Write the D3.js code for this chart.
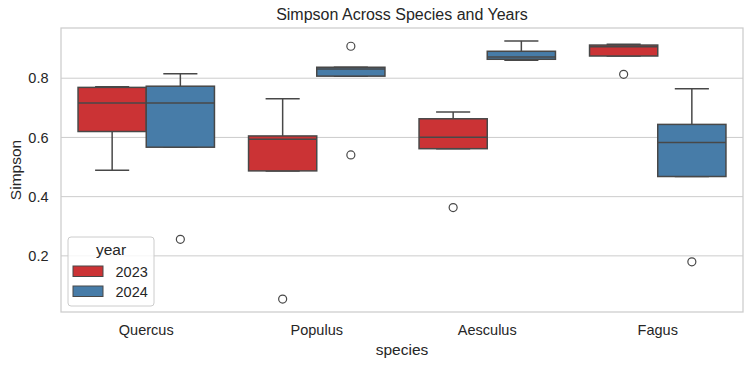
<!DOCTYPE html>
<html>
<head>
<meta charset="utf-8">
<script src="https://cdn.jsdelivr.net/npm/d3@7"></script>
<style>
  body { margin: 0; background: #fff; }
  text { font-family: "Liberation Sans", Arial, sans-serif; fill: #262626; }
</style>
</head>
<body>
<div id="chart"></div>
<script>
// categories and hue levels
const species = ['Quercus', 'Populus', 'Aesculus', 'Fagus'];
const years = ['2023', '2024'];

// box statistics, one value per species
const low2023  = [0.489, 0.487, 0.562, 0.875];
const q1_2023  = [0.620, 0.487, 0.562, 0.875];
const med2023  = [0.716, 0.594, 0.601, 0.906];
const q3_2023  = [0.769, 0.605, 0.663, 0.912];
const high2023 = [0.771, 0.731, 0.686, 0.915];
const out2023  = [[], [0.054], [0.363], [0.813]];

const low2024  = [0.567, 0.807, 0.861, 0.468];
const q1_2024  = [0.567, 0.807, 0.864, 0.468];
const med2024  = [0.716, 0.831, 0.872, 0.583];
const q3_2024  = [0.773, 0.837, 0.891, 0.644];
const high2024 = [0.815, 0.837, 0.926, 0.764];
const out2024  = [[0.256], [0.908, 0.541], [], [0.180]];

const yTicks = [0.2, 0.4, 0.6, 0.8];

const colors = { '2023': '#cb3335', '2024': '#477ca8' };
const lineColor = '#484848';

const width = 751, height = 366;
const margin = { top: 28, right: 8, bottom: 54, left: 61 };
const plotW = width - margin.left - margin.right;
const plotH = height - margin.top - margin.bottom;

// build a flat list of boxes from the arrays
const stats = {
  '2023': { low: low2023, q1: q1_2023, med: med2023, q3: q3_2023, high: high2023, out: out2023 },
  '2024': { low: low2024, q1: q1_2024, med: med2024, q3: q3_2024, high: high2024, out: out2024 }
};
const boxes = [];
species.forEach((sp, i) => {
  years.forEach(yr => {
    const s = stats[yr];
    boxes.push({ species: sp, year: yr, low: s.low[i], q1: s.q1[i], med: s.med[i],
      q3: s.q3[i], high: s.high[i], out: s.out[i] });
  });
});

const allVals = boxes.flatMap(b => [b.low, b.high, ...b.out]);
const [vmin, vmax] = d3.extent(allVals);
const pad = (vmax - vmin) * 0.05;

const svg = d3.select('#chart').append('svg')
  .attr('width', width)
  .attr('height', height);

const g = svg.append('g')
  .attr('transform', 'translate(' + margin.left + ',' + margin.top + ')');

const x = d3.scaleBand()
  .domain(species)
  .range([0, plotW])
  .padding(0);

const xHue = d3.scaleBand()
  .domain(years)
  .range([0, x.bandwidth()])
  .paddingInner(0)
  .paddingOuter(0.25);

const y = d3.scaleLinear()
  .domain([vmin - pad, vmax + pad])
  .range([plotH, 0]);

// grid
g.append('g')
  .selectAll('line')
  .data(yTicks)
  .enter()
  .append('line')
  .attr('x1', 0)
  .attr('x2', plotW)
  .attr('y1', d => y(d))
  .attr('y2', d => y(d))
  .attr('stroke', '#cccccc')
  .attr('stroke-width', 1);

// y axis labels
const yAxis = g.append('g')
  .call(d3.axisLeft(y).tickValues(yTicks).tickSize(0).tickPadding(12.5).tickFormat(d3.format('.1f')));
yAxis.select('.domain').remove();
yAxis.selectAll('text')
  .style('font-size', '14.5px')
  .attr('fill', '#262626');

// x axis labels
const xAxis = g.append('g')
  .attr('transform', 'translate(0,' + plotH + ')')
  .call(d3.axisBottom(x).tickSize(0).tickPadding(13));
xAxis.select('.domain').remove();
xAxis.selectAll('text')
  .style('font-size', '14.5px')
  .attr('fill', '#262626');

// boxes
const bw = xHue.bandwidth();
const bx = g.selectAll('.box')
  .data(boxes)
  .enter()
  .append('g')
  .attr('class', 'box')
  .attr('transform', d => 'translate(' + (x(d.species) + xHue(d.year)) + ',0)');

// whiskers
bx.append('line')
  .attr('x1', bw / 2).attr('x2', bw / 2)
  .attr('y1', d => y(d.q3)).attr('y2', d => y(d.high))
  .attr('stroke', lineColor).attr('stroke-width', 1.5);
bx.append('line')
  .attr('x1', bw / 2).attr('x2', bw / 2)
  .attr('y1', d => y(d.q1)).attr('y2', d => y(d.low))
  .attr('stroke', lineColor).attr('stroke-width', 1.5);

// caps
bx.append('line')
  .attr('x1', bw / 4).attr('x2', bw * 3 / 4)
  .attr('y1', d => y(d.high)).attr('y2', d => y(d.high))
  .attr('stroke', lineColor).attr('stroke-width', 1.5);
bx.append('line')
  .attr('x1', bw / 4).attr('x2', bw * 3 / 4)
  .attr('y1', d => y(d.low)).attr('y2', d => y(d.low))
  .attr('stroke', lineColor).attr('stroke-width', 1.5);

bx.append('rect')
  .attr('x', 0)
  .attr('width', bw)
  .attr('y', d => y(d.q3))
  .attr('height', d => y(d.q1) - y(d.q3))
  .attr('fill', d => colors[d.year])
  .attr('stroke', lineColor)
  .attr('stroke-width', 1.5);

bx.append('line')
  .attr('x1', 0).attr('x2', bw)
  .attr('y1', d => y(d.med)).attr('y2', d => y(d.med))
  .attr('stroke', lineColor).attr('stroke-width', 1.5);

// outliers
bx.selectAll('circle')
  .data(d => d.out)
  .enter()
  .append('circle')
  .attr('cx', bw / 2)
  .attr('cy', d => y(d))
  .attr('r', 4)
  .attr('fill', 'none')
  .attr('stroke', lineColor)
  .attr('stroke-width', 1.2);

// frame
g.append('rect')
  .attr('x', 0).attr('y', 0)
  .attr('width', plotW).attr('height', plotH)
  .attr('fill', 'none')
  .attr('stroke', '#cccccc')
  .attr('stroke-width', 1.25);

// title and axis labels
svg.append('text')
  .attr('x', margin.left + plotW / 2)
  .attr('y', 20)
  .attr('text-anchor', 'middle')
  .style('font-size', '16px')
  .text('Simpson Across Species and Years');

svg.append('text')
  .attr('x', margin.left + plotW / 2)
  .attr('y', 355)
  .attr('text-anchor', 'middle')
  .style('font-size', '15.5px')
  .text('species');

svg.append('text')
  .attr('transform', 'translate(21,' + (margin.top + plotH / 2) + ') rotate(-90)')
  .attr('text-anchor', 'middle')
  .style('font-size', '15.5px')
  .text('Simpson');

// legend
const leg = svg.append('g').attr('transform', 'translate(68,237)');
leg.append('rect')
  .attr('width', 86).attr('height', 69)
  .attr('rx', 3)
  .attr('fill', '#fff').attr('fill-opacity', 0.8)
  .attr('stroke', '#cccccc');
leg.append('text')
  .attr('x', 43).attr('y', 18)
  .attr('text-anchor', 'middle')
  .style('font-size', '15.5px')
  .text('year');
const items = leg.selectAll('.item')
  .data(years)
  .enter()
  .append('g')
  .attr('transform', (d, i) => 'translate(5,' + (29 + i * 20) + ')');
items.append('rect')
  .attr('width', 30).attr('height', 10.5)
  .attr('fill', d => colors[d])
  .attr('stroke', lineColor)
  .attr('stroke-width', 1);
items.append('text')
  .attr('x', 42.5).attr('y', 5.5)
  .attr('dy', '0.35em')
  .style('font-size', '14.5px')
  .text(d => d);
</script>
</body>
</html>
